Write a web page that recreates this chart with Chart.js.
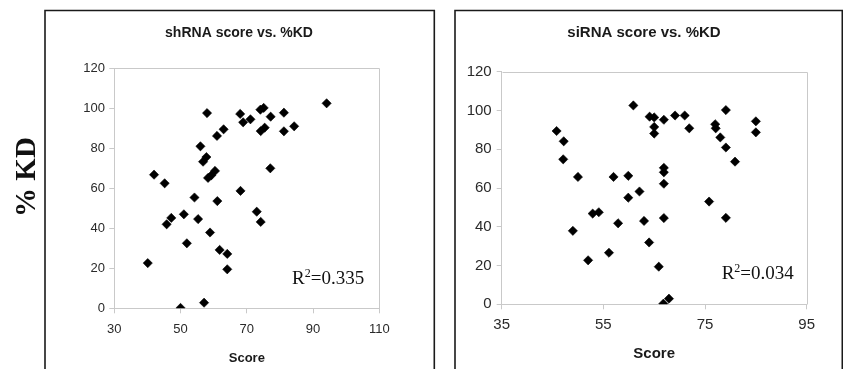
<!DOCTYPE html>
<html>
<head>
<meta charset="utf-8">
<title>shRNA / siRNA score vs. %KD</title>
<script src="https://cdn.jsdelivr.net/npm/chart.js@4/dist/chart.umd.min.js"></script>
<style>
    html, body { margin: 0; padding: 0; background: #ffffff; }
    #page { position: relative; width: 843px; height: 369px; overflow: hidden; }
    #page canvas { position: absolute; top: 0; }
</style>
</head>
<body>
<div id="page">
    <canvas id="shChart" width="436" height="369" style="left:0px"></canvas>
    <canvas id="siChart" width="407" height="369" style="left:436px"></canvas>
</div>
<script>
// shRNA panel values (score, %KD)
var shScore = [40.1, 42.0, 45.2, 45.8, 47.2, 50.0, 51.0, 51.9, 54.2, 55.3, 56.0, 57.1, 56.8, 57.8, 58.0, 58.3, 59.3, 58.9, 60.4, 61.1, 61.0, 61.8, 63.0, 64.1, 64.1, 68.1, 68.0, 68.9, 71.1, 73.0, 74.2, 74.2, 74.1, 75.1, 75.4, 77.2, 77.1, 81.2, 81.2, 84.3, 94.1];
var shKD = [22.6, 66.8, 62.5, 42.0, 45.2, 0.2, 47.0, 32.5, 55.4, 44.6, 81.0, 2.8, 73.3, 75.6, 97.6, 65.2, 66.5, 37.9, 68.7, 53.6, 86.2, 29.2, 89.5, 27.2, 19.5, 58.7, 97.2, 93.0, 94.5, 48.3, 43.2, 88.6, 99.3, 100.2, 90.3, 95.8, 70.0, 97.8, 88.5, 91.0, 102.5];

// siRNA panel values (score, %KD)
var siScore = [45.8, 47.2, 47.1, 49.0, 50.0, 52.0, 52.9, 54.1, 56.1, 57.0, 57.9, 59.9, 59.9, 60.9, 62.1, 63.0, 64.0, 64.1, 65.0, 65.0, 65.0, 65.9, 66.9, 66.9, 66.9, 66.9, 66.9, 66.8, 67.9, 69.1, 71.0, 71.9, 75.8, 77.0, 77.1, 78.0, 79.1, 79.1, 79.1, 80.9, 85.0, 85.0];
var siKD = [89.4, 84.1, 74.8, 37.9, 65.7, 22.7, 46.8, 47.5, 26.6, 65.7, 41.8, 66.3, 55.0, 102.6, 58.2, 43.0, 31.9, 96.8, 96.4, 91.5, 88.1, 19.4, 95.2, 70.4, 68.1, 62.2, 44.5, 0.3, 2.9, 97.4, 97.4, 90.8, 53.0, 92.9, 90.8, 86.1, 100.2, 80.9, 44.6, 73.6, 94.4, 88.7];

// axis ticks
var shXTicks = [30, 50, 70, 90, 110];
var siXTicks = [35, 55, 75, 95];
var kdTicks = [0, 20, 40, 60, 80, 100, 120];

// r squared labels
var shR2 = '0.335';
var siR2 = '0.034';

var sansFont = 'Arial, "Liberation Sans", sans-serif';
var serifFont = '"Times New Roman", "Liberation Serif", serif';
var axisGray = '#c9c9c9';

function toPoints(xs, ys) {
    return xs.map(function (x, i) { return { x: x, y: ys[i] }; });
}

// draws the panel frame, plot box, panel title, R^2 label and the shared % KD title
var panelExtras = {
    id: 'panelExtras',
    beforeDatasetsDraw: function (chart, args, opts) {
        var ctx = chart.ctx;
        var a = chart.chartArea;
        ctx.save();
        // light plot box (top and right)
        ctx.strokeStyle = axisGray;
        ctx.lineWidth = 1;
        ctx.beginPath();
        ctx.moveTo(Math.round(a.left) + 0.5, Math.round(a.top) + 0.5);
        ctx.lineTo(Math.round(a.right) + 0.5, Math.round(a.top) + 0.5);
        ctx.lineTo(Math.round(a.right) + 0.5, Math.round(a.bottom) + 0.5);
        ctx.stroke();
        // panel frame
        ctx.strokeStyle = '#1a1a1a';
        ctx.lineWidth = 1.6;
        ctx.beginPath();
        ctx.moveTo(opts.frame[0], 400);
        ctx.lineTo(opts.frame[0], opts.frame[1]);
        ctx.lineTo(opts.frame[2], opts.frame[1]);
        ctx.lineTo(opts.frame[2], 400);
        ctx.stroke();
        ctx.restore();
    },
    afterDraw: function (chart, args, opts) {
        var ctx = chart.ctx;
        ctx.save();
        ctx.fillStyle = '#1a1a1a';
        // panel title
        ctx.textAlign = 'center';
        ctx.textBaseline = 'middle';
        ctx.font = 'bold ' + opts.titleSize + 'px ' + sansFont;
        ctx.fillText(opts.title, opts.titleX, 33);
        // R^2 with superscript
        ctx.fillStyle = '#111';
        ctx.textBaseline = 'alphabetic';
        ctx.textAlign = 'left';
        var x = opts.r2x;
        var y = opts.r2y;
        ctx.font = '19px ' + serifFont;
        ctx.fillText('R', x, y);
        x += ctx.measureText('R').width;
        ctx.font = '12px ' + serifFont;
        ctx.fillText('2', x, y - 7);
        x += ctx.measureText('2').width;
        ctx.font = '19px ' + serifFont;
        ctx.fillText('=' + opts.r2, x, y);
        if (opts.kdTitle) {
            ctx.translate(35, 177);
            ctx.rotate(-Math.PI / 2);
            ctx.textAlign = 'center';
            ctx.font = 'bold 29px ' + serifFont;
            ctx.fillText(opts.kdTitle, 0, 0);
        }
        ctx.restore();
    }
};

function makeScatter(canvasId, cfg) {
    var ctx = document.getElementById(canvasId).getContext('2d');
    return new Chart(ctx, {
        type: 'scatter',
        data: {
            datasets: [{
                data: toPoints(cfg.xs, cfg.ys),
                pointStyle: 'rectRot',
                pointRadius: 4.6,
                pointBorderWidth: 0.6,
                backgroundColor: '#000',
                borderColor: '#000'
            }]
        },
        options: {
            responsive: false,
            animation: false,
            devicePixelRatio: 1,
            layout: { padding: { left: 0, top: cfg.padTop, right: cfg.padRight, bottom: 0 } },
            plugins: {
                legend: { display: false },
                tooltip: { enabled: false },
                title: { display: false },
                panelExtras: cfg.extras
            },
            scales: {
                x: {
                    type: 'linear',
                    min: cfg.xTicks[0],
                    max: cfg.xTicks[cfg.xTicks.length - 1],
                    afterBuildTicks: function (s) { s.ticks = cfg.xTicks.map(function (v) { return { value: v }; }); },
                    afterFit: function (s) { s.height = cfg.xHeight; },
                    ticks: { color: '#2a2a2a', padding: cfg.xTickPad, font: { family: sansFont, size: cfg.tickSize } },
                    grid: { drawOnChartArea: false, tickLength: 5, color: axisGray },
                    border: { color: axisGray },
                    title: {
                        display: true,
                        text: 'Score',
                        color: '#1a1a1a',
                        font: { family: sansFont, size: cfg.scoreSize, weight: 'bold' },
                        padding: { top: 0, bottom: cfg.scorePad }
                    }
                },
                y: {
                    type: 'linear',
                    min: 0,
                    max: 120,
                    afterBuildTicks: function (s) { s.ticks = kdTicks.map(function (v) { return { value: v }; }); },
                    afterFit: function (s) { s.width = cfg.yWidth; },
                    ticks: { color: '#2a2a2a', padding: cfg.yTickPad, font: { family: sansFont, size: cfg.tickSize } },
                    grid: { drawOnChartArea: false, tickLength: 5, color: axisGray },
                    border: { color: axisGray }
                }
            }
        },
        plugins: [panelExtras]
    });
}

document.addEventListener('DOMContentLoaded', function () {
    makeScatter('shChart', {
        xs: shScore, ys: shKD, xTicks: shXTicks,
        tickSize: 13, scoreSize: 13, scorePad: 3.2,
        padTop: 68.3, padRight: 56.7, yWidth: 114.3, xHeight: 60.7, xTickPad: 8.2, yTickPad: 4.3,
        extras: {
            frame: [45, 10.5, 434.3], title: 'shRNA score vs. %KD', titleSize: 14, titleX: 239,
            r2: shR2, r2x: 292, r2y: 284, kdTitle: '% KD'
        }
    });
    makeScatter('siChart', {
        xs: siScore, ys: siKD, xTicks: siXTicks,
        tickSize: 15, scoreSize: 15, scorePad: 6,
        padTop: 71.7, padRight: 36.3, yWidth: 65.7, xHeight: 64.7, xTickPad: 6.7, yTickPad: 5,
        extras: {
            frame: [19, 10.5, 406.3], title: 'siRNA score vs. %KD', titleSize: 15, titleX: 208,
            r2: siR2, r2x: 285.7, r2y: 279.3, kdTitle: null
        }
    });
});
</script>
</body>
</html>
